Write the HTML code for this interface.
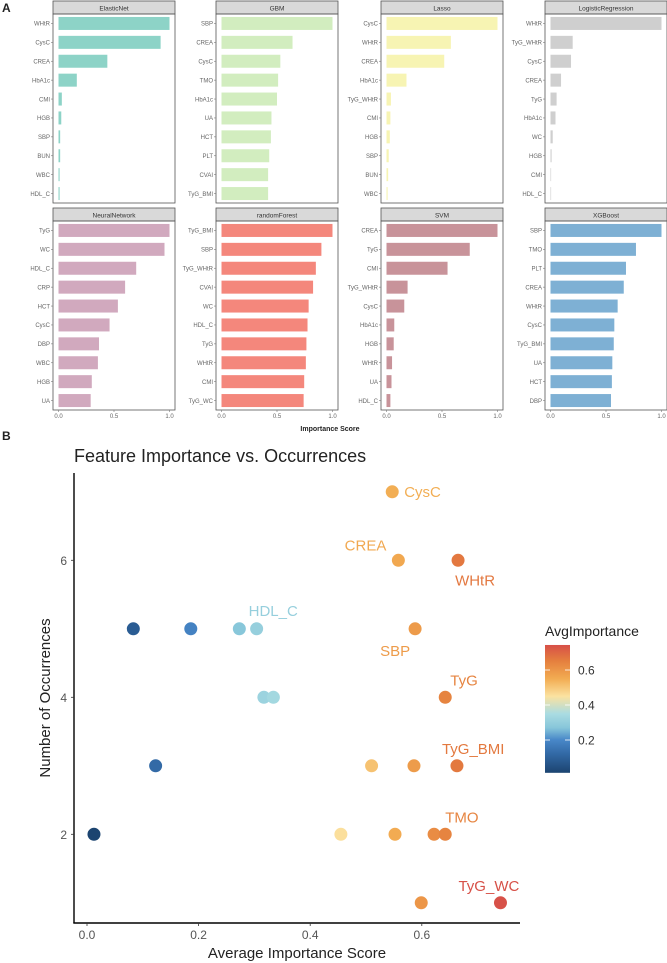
<!DOCTYPE html>
<html><head><meta charset="utf-8"><style>
html,body{margin:0;padding:0;background:#fff;}
svg{display:block;font-family:"Liberation Sans",sans-serif;}
</style></head><body>
<svg id="fig" width="667" height="963" viewBox="0 0 667 963" xmlns="http://www.w3.org/2000/svg">
<text x="2" y="12" font-size="12" font-weight="bold" fill="#222">A</text>
<text x="2" y="440" font-size="12" font-weight="bold" fill="#222">B</text>
<g id="facets"></g>
<text x="330" y="431" font-size="7" font-weight="bold" text-anchor="middle" fill="#222">Importance Score</text>
<g id="scatter"></g>
</svg>
<script>
const models = ["ElasticNet","GBM","Lasso","LogisticRegression","NeuralNetwork","randomForest","SVM","XGBoost"];
const modelColors = ["#8dd3c7","#d2edbf","#f7f4b3","#cfcfcf","#d1a9be","#f4877c","#c8939a","#7eb0d4"];
const featElasticNet = ["WHtR","CysC","CREA","HbA1c","CMI","HGB","SBP","BUN","WBC","HDL_C"];
const valElasticNet = [1,0.92,0.44,0.165,0.03,0.025,0.015,0.015,0.01,0.01];
const featGBM = ["SBP","CREA","CysC","TMO","HbA1c","UA","HCT","PLT","CVAI","TyG_BMI"];
const valGBM = [1,0.64,0.53,0.51,0.5,0.45,0.445,0.43,0.42,0.42];
const featLasso = ["CysC","WHtR","CREA","HbA1c","TyG_WHtR","CMI","HGB","SBP","BUN","WBC"];
const valLasso = [1,0.58,0.52,0.18,0.04,0.035,0.03,0.02,0.015,0.01];
const featLogistic = ["WHtR","TyG_WHtR","CysC","CREA","TyG","HbA1c","WC","HGB","CMI","HDL_C"];
const valLogistic = [1,0.2,0.185,0.095,0.055,0.045,0.02,0.01,0.005,0.005];
const featNN = ["TyG","WC","HDL_C","CRP","HCT","CysC","DBP","WBC","HGB","UA"];
const valNN = [1,0.955,0.70,0.60,0.535,0.46,0.365,0.355,0.30,0.29];
const featRF = ["TyG_BMI","SBP","TyG_WHtR","CVAI","WC","HDL_C","TyG","WHtR","CMI","TyG_WC"];
const valRF = [1,0.9,0.85,0.825,0.785,0.775,0.765,0.76,0.745,0.74];
const featSVM = ["CREA","TyG","CMI","TyG_WHtR","CysC","HbA1c","HGB","WHtR","UA","HDL_C"];
const valSVM = [1,0.75,0.55,0.19,0.16,0.07,0.065,0.05,0.045,0.035];
const featXGB = ["SBP","TMO","PLT","CREA","WHtR","CysC","TyG_BMI","UA","HCT","DBP"];
const valXGB = [1,0.77,0.68,0.66,0.605,0.575,0.57,0.557,0.553,0.545];
const facetTicks = [0,0.5,1.0];
const facetTickLabels = ["0.0","0.5","1.0"];

// scatter data
const ptImportance = [0.547,0.558,0.665,0.083,0.186,0.273,0.304,0.588,0.317,0.334,0.642,0.123,0.51,0.586,0.663,0.0125,0.455,0.552,0.622,0.642,0.599,0.741];
const ptOccurrences = [7,6,6,5,5,5,5,5,4,4,4,3,3,3,3,2,2,2,2,2,1,1];
const ptLabels = ["CysC","CREA","WHtR","","","","HDL_C","SBP","","","TyG","","","","TyG_BMI","","","","","TMO","","TyG_WC"];
const xTicks = [0,0.2,0.4,0.6];
const xTickLabels = ["0.0","0.2","0.4","0.6"];
const yTicks = [2,4,6];
const legendTicks = [0.2,0.4,0.6];

const NS = "http://www.w3.org/2000/svg";
function mk(tag, attrs, parent){const e=document.createElementNS(NS,tag);for(const k in attrs)e.setAttribute(k,attrs[k]);parent.appendChild(e);return e;}

const featArrays=[featElasticNet,featGBM,featLasso,featLogistic,featNN,featRF,featSVM,featXGB];
const valArrays=[valElasticNet,valGBM,valLasso,valLogistic,valNN,valRF,valSVM,valXGB];
const facetsG=document.getElementById('facets');
const colX=[53,216,381,545], rowY=[1,208], pw=122, stripH=13, plotBottomOff=202;
models.forEach((m,i)=>{
  const px=colX[i%4], py=rowY[Math.floor(i/4)];
  const g=mk('g',{},facetsG);
  
  
  const strip=mk('rect',{x:px,y:py,width:pw,height:stripH,fill:'#d9d9d9',stroke:'#555','stroke-width':0.8},g);
  
  
  const st=mk('text',{x:px+pw/2,y:py+9.5,'font-size':6.5,'text-anchor':'middle',fill:'#333'},g);
  st.textContent=m;
  
  
  const top=py+stripH, bot=py+plotBottomOff;
  const frame=mk('rect',{x:px,y:top,width:pw,height:bot-top,fill:'none',stroke:'#555','stroke-width':0.8},g);
  
  
  const x0=px+5.5, span=111;
  const xs=v=>x0+v*span;
  const feats=featArrays[i], vals=valArrays[i];
  const step=(bot-top)/feats.length;
  feats.forEach((f,j)=>{
    const cy=top+step*(j+0.5);
    const b=mk('rect',{x:xs(0),y:cy-6.5,width:Math.max(0.6,xs(vals[j])-xs(0)),height:13,fill:modelColors[i]},g);
    
    
    mk('line',{x1:px-2,x2:px,y1:cy,y2:cy,stroke:'#777','stroke-width':0.6},g);
    const t=mk('text',{x:px-3,y:cy+2.2,'font-size':6,'text-anchor':'end',fill:'#666'},g);
    t.textContent=f;
    
    
  });
  if(i>=4){
    facetTicks.forEach((tv,k)=>{
      mk('line',{x1:xs(tv),x2:xs(tv),y1:bot,y2:bot+2,stroke:'#777','stroke-width':0.6},g);
      const t=mk('text',{x:xs(tv),y:bot+8,'font-size':6,'text-anchor':'middle',fill:'#666'},g);
      t.textContent=facetTickLabels[k];
      
      
    });
  }
});

// scatter
const sg=document.getElementById('scatter');
const X=v=>87+v*558;
const Y=n=>834.3-(n-2)*68.5;
const stops=[[0.0125,[28,68,112]],[0.12,[50,105,165]],[0.2,[72,135,200]],[0.27,[135,198,218]],[0.35,[170,220,226]],[0.45,[251,226,160]],[0.55,[242,172,82]],[0.65,[229,128,62]],[0.743,[215,80,72]]];
function col(v){
  if(v<=stops[0][0])return 'rgb('+stops[0][1]+')';
  for(let i=1;i<stops.length;i++){if(v<=stops[i][0]){const a=stops[i-1],b=stops[i],t=(v-a[0])/(b[0]-a[0]);return 'rgb('+a[1].map((c,k)=>Math.round(c+(b[1][k]-c)*t)).join(',')+')';}}
  return 'rgb('+stops[stops.length-1][1]+')';
}
const title=mk('text',{x:74,y:462,'font-size':18,fill:'#222'},sg);
title.textContent='Feature Importance vs. Occurrences';


const ya=mk('line',{x1:74,x2:74,y1:473,y2:923,stroke:'#000','stroke-width':1.4},sg);


const xa=mk('line',{x1:73.3,x2:520,y1:923,y2:923,stroke:'#000','stroke-width':1.4},sg);


xTicks.forEach((tv,k)=>{
  mk('line',{x1:X(tv),x2:X(tv),y1:923,y2:926,stroke:'#333','stroke-width':0.8},sg);
  const t=mk('text',{x:X(tv),y:939,'font-size':12,'text-anchor':'middle',fill:'#555'},sg);
  t.textContent=xTickLabels[k];
  
  
});
yTicks.forEach(tv=>{
  mk('line',{x1:71,x2:74,y1:Y(tv),y2:Y(tv),stroke:'#333','stroke-width':0.8},sg);
  const t=mk('text',{x:67,y:Y(tv)+4.5,'font-size':12,'text-anchor':'end',fill:'#555'},sg);
  t.textContent=String(tv);
  
  
});
const xt=mk('text',{x:297,y:958,'font-size':15,'text-anchor':'middle',fill:'#222'},sg);
xt.textContent='Average Importance Score';


const yt=mk('text',{x:0,y:0,'font-size':15,'text-anchor':'middle',fill:'#222',transform:'translate(50,698) rotate(-90)'},sg);
yt.textContent='Number of Occurrences';


ptImportance.forEach((v,i)=>{
  const c=mk('circle',{cx:X(v),cy:Y(ptOccurrences[i]),r:6.5,fill:col(v)},sg);
  
  
});
const labelPos={CysC:[12,0,'start'],CREA:[-12,-15,'end'],WHtR:[-3,20,'start'],HDL_C:[-8,-18,'start'],SBP:[-35,22,'start'],TyG:[5,-17,'start'],TyG_BMI:[-15,-17,'start'],TMO:[0,-17,'start'],TyG_WC:[-42,-17,'start']};
ptLabels.forEach((l,i)=>{
  if(!l)return;
  const v=ptImportance[i], p=labelPos[l]||[8,-14,'start'];
  const t=mk('text',{x:X(v)+p[0],y:Y(ptOccurrences[i])+p[1]+5,'font-size':15,'text-anchor':p[2],fill:col(v)},sg);
  t.textContent=l;
  
  
});
// legend
const lg=mk('g',{},sg);


const lt=mk('text',{x:545,y:636,'font-size':14,fill:'#222'},lg);
lt.textContent='AvgImportance';


const defs=mk('defs',{},lg);
const grad=mk('linearGradient',{id:'cb',x1:0,y1:1,x2:0,y2:0},defs);
stops.forEach(s=>mk('stop',{offset:((s[0]-0.0125)/(0.743-0.0125)).toFixed(3),'stop-color':'rgb('+s[1]+')'},grad));
const LY=v=>670-(v-0.6)/0.2*35;
const cb=mk('rect',{x:545,y:LY(0.743),width:25,height:LY(0.0125)-LY(0.743),fill:'url(#cb)'},lg);


legendTicks.forEach(tv=>{
  mk('line',{x1:545,x2:550,y1:LY(tv),y2:LY(tv),stroke:'#fff','stroke-width':0.8},lg);
  mk('line',{x1:565,x2:570,y1:LY(tv),y2:LY(tv),stroke:'#fff','stroke-width':0.8},lg);
  const t=mk('text',{x:578,y:LY(tv)+4.5,'font-size':12,fill:'#333'},lg);
  t.textContent=tv.toFixed(1);
  
  
});
</script>
</body></html>
